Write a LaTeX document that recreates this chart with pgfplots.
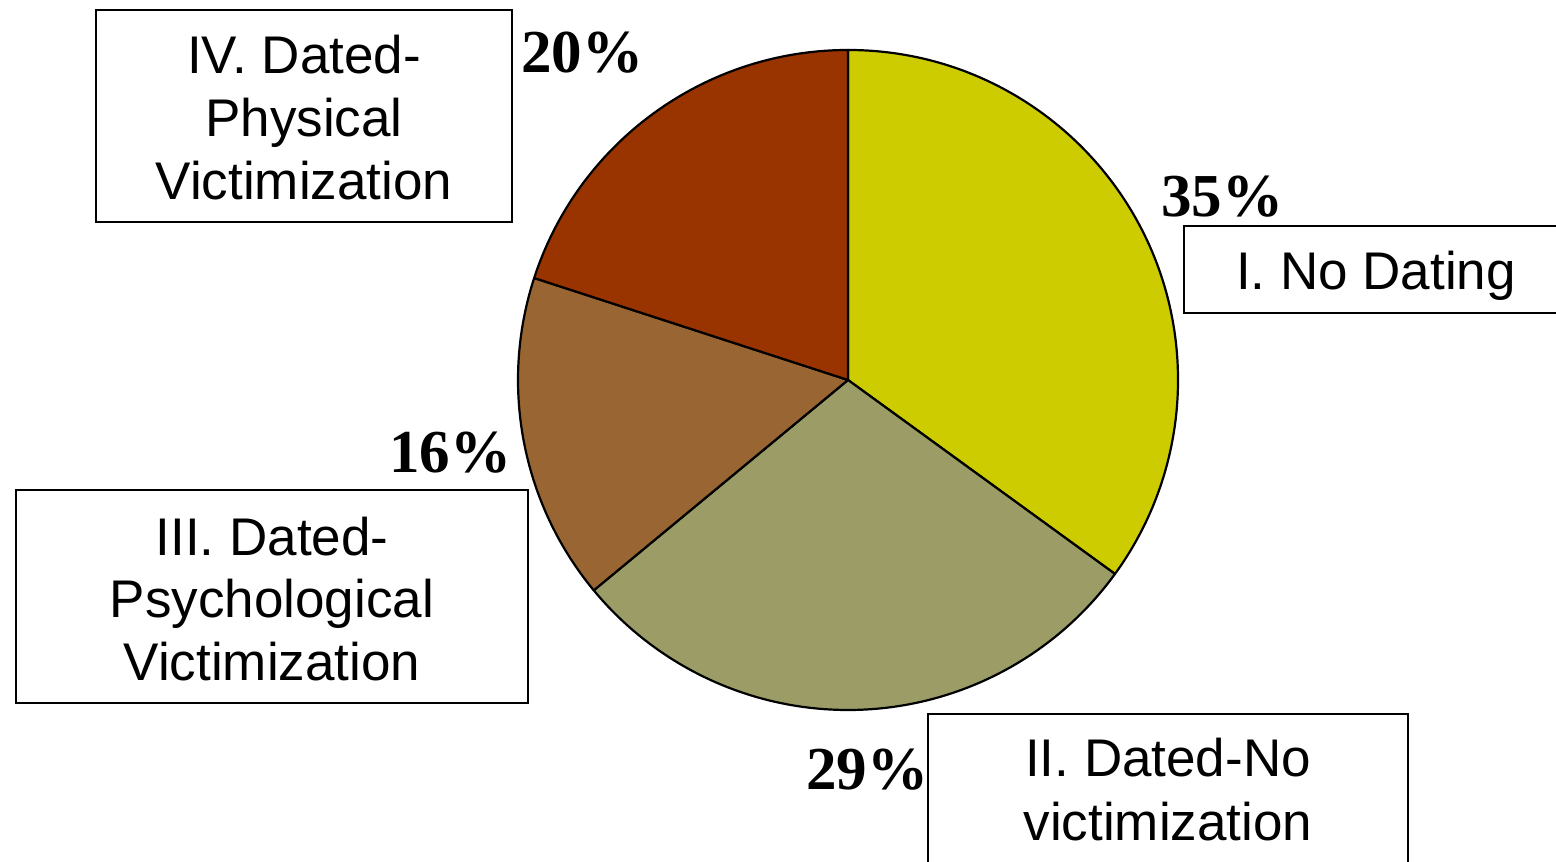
\documentclass[border=0pt]{standalone}
\usepackage{fontspec}
\setmainfont{Liberation Sans}
\newfontfamily\pctfont{Liberation Serif}
\usepackage{pgfplots}
\usepackage{pgfplotstable}
\pgfplotsset{compat=1.18}
\definecolor{pc0}{HTML}{CCCC00}
\definecolor{pc1}{HTML}{9C9C66}
\definecolor{pc2}{HTML}{996633}
\definecolor{pc3}{HTML}{993300}
\tikzset{
  lbl/.style={font=\fontsize{26.5pt}{31pt}\selectfont, anchor=base, inner sep=0pt},
  pct/.style={font=\pctfont\bfseries\fontsize{30.5pt}{36pt}\selectfont, anchor=base, inner sep=0pt}}
\pgfplotstableread{
idx value
0 35
1 29
2 16
3 20
}\piedata
\def\pieangle{90}
\begin{document}%
\begin{tikzpicture}%
\foreach \i in {0,1,2,3}{%
  \pgfplotstablegetelem{\i}{value}\of\piedata
  \pgfmathsetmacro\e{\pieangle-3.6*\pgfplotsretval}%
  \expandafter\xdef\csname sa\i\endcsname{\pieangle}%
  \expandafter\xdef\csname ea\i\endcsname{\e}%
  \xdef\pieangle{\e}%
}%
\begin{axis}[name=ax, hide axis, scale only axis, clip=false,
  x=0.5pt, y=0.5pt, xmin=0, xmax=1556, ymin=0, ymax=861]
\pgfplotsinvokeforeach{0,1,2,3}{
  \filldraw[fill=pc#1, draw=black, line width=1.1pt, line join=round]
    (axis cs:848,481) -- (axis cs:{848+330*cos(\csname sa#1\endcsname)},{481+330*sin(\csname sa#1\endcsname)})
    arc[start angle=\csname sa#1\endcsname, end angle=\csname ea#1\endcsname, radius=165pt] -- cycle;
}
% percentages
\node[pct] at (axis cs:1222,{861-217}) {35\%};
\node[pct] at (axis cs:867,{861-790}) {29\%};
\node[pct] at (axis cs:450,{861-473}) {16\%};
\node[pct] at (axis cs:582,{861-73}) {20\%};
% boxes
\draw[line width=1.2pt, fill=white] (axis cs:96,{861-10}) rectangle (axis cs:512,{861-222});
\node[lbl] at (axis cs:304,{861-74}) {IV. Dated-};
\node[lbl] at (axis cs:304,{861-137}) {Physical};
\node[lbl] at (axis cs:304,{861-200}) {Victimization};
\draw[line width=1.2pt, fill=white] (axis cs:1184,{861-226}) rectangle (axis cs:1570,{861-313});
\node[lbl] at (axis cs:1376,{861-290}) {I. No Dating};
\draw[line width=1.2pt, fill=white] (axis cs:16,{861-490}) rectangle (axis cs:528,{861-703});
\node[lbl] at (axis cs:272,{861-556}) {III. Dated-};
\node[lbl] at (axis cs:272,{861-618}) {Psychological};
\node[lbl] at (axis cs:272,{861-681}) {Victimization};
\draw[line width=1.2pt] (axis cs:928,{861-714}) rectangle (axis cs:1408,{861-880});
\node[lbl] at (axis cs:1168,{861-777}) {II. Dated-No};
\node[lbl] at (axis cs:1168,{861-841}) {victimization};
\end{axis}
\pgfresetboundingbox
\path (ax.south west) rectangle (ax.north east);
\end{tikzpicture}%
\end{document}
